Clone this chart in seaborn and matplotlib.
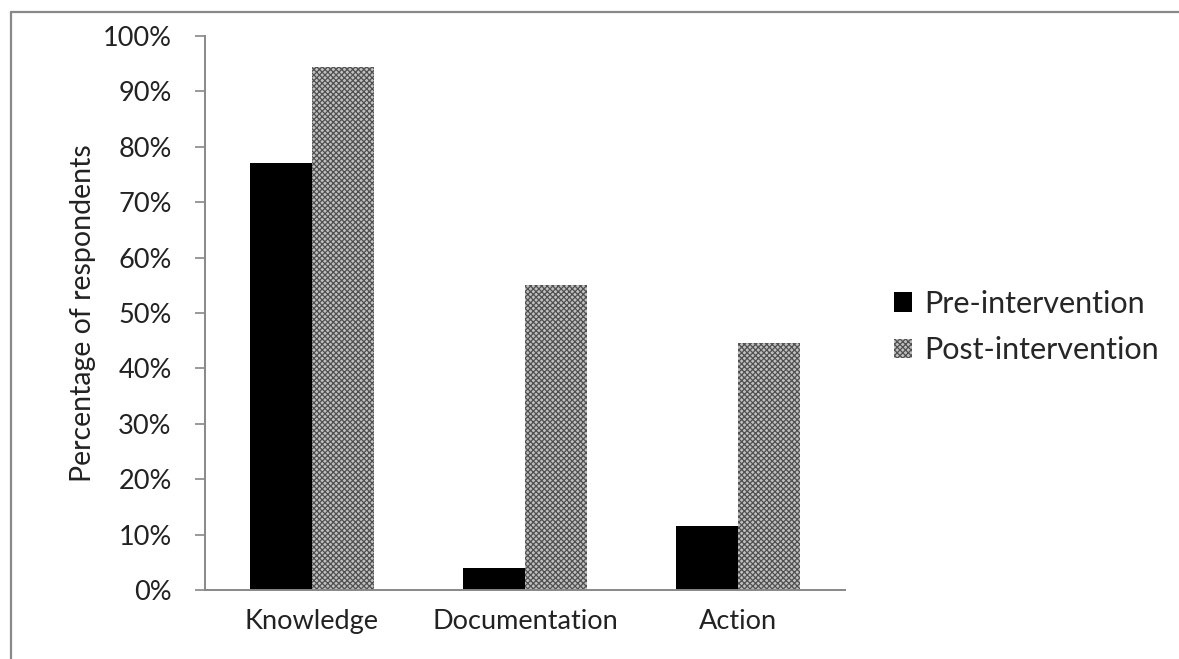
import matplotlib
matplotlib.use("Agg")
import matplotlib.pyplot as plt
from matplotlib.lines import Line2D
from matplotlib.ticker import PercentFormatter
import seaborn as sns
import pandas as pd

# values (fraction of respondents)
categories = ["Knowledge", "Documentation", "Action"]
groups = ["Pre-intervention", "Post-intervention"]
pre_values = [0.77, 0.04, 0.116]
post_values = [0.944, 0.55, 0.446]
y_ticks = [0, 0.1, 0.2, 0.3, 0.4, 0.5, 0.6, 0.7, 0.8, 0.9, 1.0]

df = pd.DataFrame({
    "category": categories * 2,
    "group": [groups[0]] * 3 + [groups[1]] * 3,
    "value": pre_values + post_values,
})

sns.set_style("white")
plt.rcParams["font.family"] = ["Lato", "DejaVu Sans"]
plt.rcParams["hatch.linewidth"] = 0.9

fig = plt.figure(figsize=(11.79, 6.59), dpi=100)
ax = fig.add_axes([205 / 1179, 1 - 590 / 659, (845 - 205) / 1179, (590 - 36) / 659])

sns.barplot(data=df, x="category", y="value", hue="group", order=categories,
            hue_order=groups, palette=["black", "#c0c0c0"], width=0.58,
            saturation=1, ax=ax, legend=False)

for bar in ax.containers[0]:
    bar.set_linewidth(0)
for bar in ax.containers[1]:
    bar.set_hatch("xxxxxx")
    bar.set_edgecolor("#505050")
    bar.set_linewidth(0)

ax.set_xlim(-0.5, 2.5)
ax.set_ylim(0, 1)
ax.set_yticks(y_ticks)
ax.yaxis.set_major_formatter(PercentFormatter(1.0, decimals=0))
ax.set_xticks(range(len(categories)), categories)
ax.set_xticks([-0.5, 0.5, 1.5, 2.5], minor=True)
ax.tick_params(axis="x", which="major", length=0, pad=14, labelsize=19.5, labelcolor="#222222")
ax.tick_params(axis="x", which="minor", length=7, width=1.2, color="#888888", direction="out")
ax.tick_params(axis="y", length=7, width=1.2, color="#888888", direction="out",
               left=True, labelsize=19.5, labelcolor="#222222", pad=17)

sns.despine(ax=ax)
for side in ["left", "bottom"]:
    ax.spines[side].set_color("#888888")
    ax.spines[side].set_linewidth(1.4)

ax.set_xlabel("")
ax.set_ylabel("Percentage of respondents", fontsize=20.5, color="#222222", labelpad=5)

# legend with square markers
handles = [
    plt.Rectangle((0, 0), 1, 1, facecolor="black", edgecolor="black", linewidth=0),
    plt.Rectangle((0, 0), 1, 1, facecolor="#c0c0c0", edgecolor="#505050",
                  hatch="xxxxxx", linewidth=0),
]
fig.legend(handles, groups, loc="center left", bbox_to_anchor=(866 / 1179, 1 - 327 / 659),
           frameon=False, handlelength=0.6, handleheight=0.6,
           handletextpad=0.4, labelspacing=0.6, prop={"family": ["Lato"], "size": 22})

# outer frame (only left and top edges visible in the reference)
fig.add_artist(Line2D([11 / 1179, 11 / 1179], [0, 1 - 12 / 659], transform=fig.transFigure,
                      color="#888888", linewidth=1.6))
fig.add_artist(Line2D([11 / 1179, 1], [1 - 12 / 659, 1 - 12 / 659], transform=fig.transFigure,
                      color="#888888", linewidth=1.6))

fig.savefig("out.png", dpi=100, facecolor="white")
